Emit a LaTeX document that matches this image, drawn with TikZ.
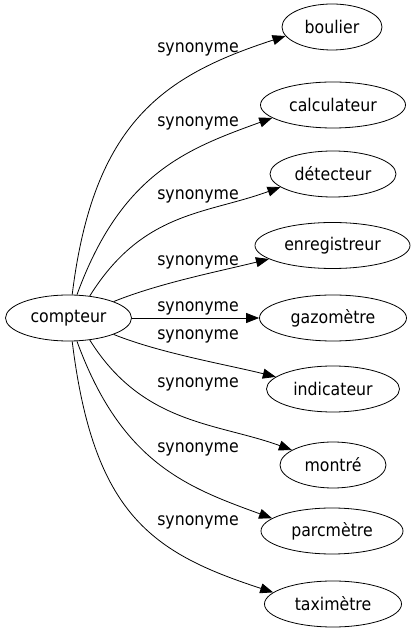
\documentclass[tikz,border=0pt]{standalone}
\usepackage{fontspec}
\setmainfont{DejaVu Sans Condensed}
\usetikzlibrary{shapes.geometric,arrows.meta}
\begin{document}
\begin{tikzpicture}[x=1pt,y=1pt,
  word/.style={draw,ellipse,line width=0.8pt,inner sep=0pt,minimum height=46pt,font=\fontsize{17.5}{20}\selectfont},
  rel/.style={line width=0.8pt,-{Triangle[length=13pt,width=10pt]}},
  lab/.style={anchor=base,inner sep=0pt,font=\fontsize{17.5}{20}\selectfont}]
\useasboundingbox (0,0) rectangle (414,635);
\node[word,minimum width=126pt] (c) at (68.5,317) {compteur};
\node[word,minimum width=100pt] (boulier) at (332,608) {boulier};
\node[word,minimum width=145pt] (calculateur) at (333,530) {calculateur};
\node[word,minimum width=126pt] (detecteur) at (333,461) {détecteur};
\node[word,minimum width=155pt] (enregistreur) at (332.5,389.5) {enregistreur};
\node[word,minimum width=147pt] (gazometre) at (333,317) {gazomètre};
\node[word,minimum width=133pt] (indicateur) at (333,246) {indicateur};
\node[word,minimum width=106pt] (montre) at (333,170) {montré};
\node[word,minimum width=142pt] (parcmetre) at (332,104) {parcmètre};
\node[word,minimum width=137pt] (taximetre) at (333,31) {taximètre};
\draw[rel] (c.81) .. controls +(83:174) and +(198:128) .. (boulier.191);
\draw[rel] (c.70) .. controls +(70:130) and +(200:90) .. (calculateur.192);
\draw[rel] (c.46) .. controls +(58:100) and +(200:80) .. (detecteur.194);
\draw[rel] (c.20) .. controls +(22:50) and +(194:50) .. (enregistreur.192);
\draw[rel] (c.east) -- (gazometre.west);
\draw[rel] (c.-20) .. controls +(-22:50) and +(166:50) .. (indicateur.168);
\draw[rel] (c.-46) .. controls +(-58:100) and +(160:80) .. (montre.160);
\draw[rel] (c.-70) .. controls +(-70:130) and +(160:90) .. (parcmetre.168);
\draw[rel] (c.-81) .. controls +(-83:174) and +(162:128) .. (taximetre.169);
\node[lab] (l1) at (198,582) {synonyme};
\node[lab] (l2) at (198,508) {synonyme};
\node[lab] (l3) at (198,435) {synonyme};
\node[lab] (l4) at (198,369) {synonyme};
\node[lab] (l5) at (198,323) {synonyme};
\node[lab] (l6) at (198,295) {synonyme};
\node[lab] (l7) at (198,247) {synonyme};
\node[lab] (l8) at (198,182) {synonyme};
\node[lab] (l9) at (198,109) {synonyme};
\end{tikzpicture}
\end{document}
